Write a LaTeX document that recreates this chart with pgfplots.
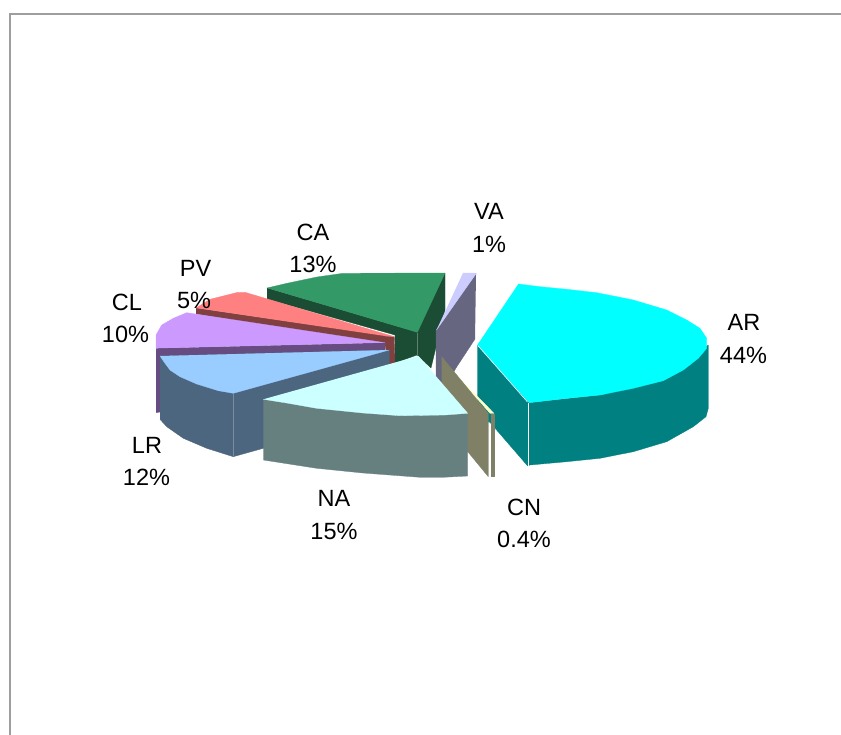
\documentclass[border=0pt]{standalone}
\usepackage{fontspec}
\setmainfont{Liberation Sans}
\usepackage{pgfplots}
\pgfplotsset{compat=1.18}
% top faces and their darker side walls
\definecolor{arTop}{HTML}{00FFFF}\definecolor{arSide}{HTML}{008080}
\definecolor{cnTop}{HTML}{FFFFCC}\definecolor{cnSide}{HTML}{808066}
\definecolor{naTop}{HTML}{CCFFFF}\definecolor{naSide}{HTML}{668080}
\definecolor{lrTop}{HTML}{99CCFF}\definecolor{lrSide}{HTML}{4D6680}
\definecolor{clTop}{HTML}{CC99FF}\definecolor{clSide}{HTML}{664C80}
\definecolor{pvTop}{HTML}{FF8080}\definecolor{pvSide}{HTML}{804040}
\definecolor{caTop}{HTML}{339966}\definecolor{caSide}{HTML}{1A4D33}
\definecolor{vaTop}{HTML}{CCCCFF}\definecolor{vaSide}{HTML}{666680}
\tikzset{
  face/.style={fill=#1, draw=#1, line width=0.3pt, line join=round},
  lbl/.style={font=\fontsize{23.6}{27}\selectfont, text=black, inner sep=0pt, anchor=center, yshift=-0.7bp}
}
\begin{document}
\begin{tikzpicture}
\begin{axis}[
  name=pie,
  width=841bp, height=735bp, scale only axis,
  xmin=0, xmax=841, ymin=0, ymax=735, y dir=reverse,
  axis lines=none, clip=true, no markers
]
% chart frame
\addplot[color=black!38, line width=1.7pt] coordinates {(10,735) (10,14) (841,14)};

% CA
\addplot[face=caSide] coordinates {(267,288) (417,332) (445,273) (445,310) (431,368) (417,355) (395,363) (395,335) (267,299)};
\addplot[color=caSide!70!white, line width=0.6pt] coordinates {(417.3,333) (417.3,356)};
\addplot[face=caTop] coordinates {(267,288) (287,283.3) (317,277) (343,273.3) (445,273) (417.3,332.5)};

% VA
\addplot[face=vaSide] coordinates {(476,274) (436,330) (436,377) (445,388) (456,368) (475,339)};
\addplot[face=vaTop] coordinates {(463,273) (476.5,273) (436.5,330)};

% PV
\addplot[face=pvSide] coordinates {(196,308) (394.3,336.7) (395,363.5) (389,364) (385,345) (196,314)};
\addplot[face=pvTop] coordinates {(196,308) (210,299.3) (238,292.3) (245,292.3) (394.3,336.7) (385,336)};

% CL
\addplot[face=clSide] coordinates {(156,348.3) (385,342.7) (385,350) (160,356) (160,412) (156,412.7)};
\addplot[face=clTop] coordinates {(156,348.3) (156,335) (161.7,325) (173.3,318.3) (186.7,312.7) (385,342.7)};

% LR
\addplot[face=lrSide] coordinates {(160,356) (389.3,350) (389.3,413) (233.3,456.7) (206.7,448.3) (183.3,438.3) (166.7,426.7) (160,419.3)};
\addplot[color=lrSide!75!white, line width=0.6pt] coordinates {(233.3,394) (233.3,456)};
\addplot[face=lrTop] coordinates {(160,356) (165,363.3) (170,370) (180,376.7) (196.7,384) (218.3,390.7) (233.3,393.3) (389.3,350)};

% AR
\addplot[face=arSide] coordinates {(477.3,345) (529,402.7) (600,395) (663.3,380.7) (708.3,345) (708.3,408.3) (706,416.7) (693.3,426.7) (666.7,441.7) (633.3,451.7) (600,458.3) (566.7,461.7) (530,465) (527.7,466) (477.3,407.7)};
\addplot[face=arTop] coordinates {(518.3,284) (540,286.7) (566.7,289.3) (596.7,292.7) (633.3,300) (666.7,310) (686.7,320) (700,328.3) (706.7,338.3) (706.7,348.3) (698.3,358.3) (683.3,370) (663.3,380.7) (633.3,388.3) (600,395) (566.7,398.3) (529.3,402.7) (477.3,345)};
\addplot[color=white, line width=1.2pt] coordinates {(528.6,402.5) (528.6,466)};
\addplot[color=white, line width=0.6pt] coordinates {(477.8,345.5) (527.5,402)};

% CN
\addplot[face=arSide] coordinates {(478,397) (490,412) (490,422) (488,422)};
\addplot[face=cnTop] coordinates {(453,371.7) (494,413.3) (490,413.3) (452,370)};
\addplot[face=cnSide] coordinates {(441.7,356.7) (488.3,413.3) (488.3,476.7) (441.7,420)};
\addplot[face=cnSide] coordinates {(490.6,414) (493.8,414) (493.8,476) (490.6,476)};

% NA
\addplot[face=naSide] coordinates {(263.3,399.3) (467.7,413.3) (467.7,476) (443.3,477.3) (420,477.3) (363,473) (316.7,468.3) (263.3,460)};
\addplot[face=naTop] coordinates {(263.3,399.3) (286.7,403) (316.7,408.3) (363,413) (400,415.7) (445,415) (467.7,413.3) (418.3,356)};

% labels
\node[lbl] at (axis cs:489,211) {VA};
\node[lbl] at (axis cs:489,244) {1\%};
\node[lbl] at (axis cs:313,232) {CA};
\node[lbl] at (axis cs:313,264) {13\%};
\node[lbl] at (axis cs:195.5,268) {PV};
\node[lbl] at (axis cs:194,300) {5\%};
\node[lbl] at (axis cs:127,302) {CL};
\node[lbl] at (axis cs:125.5,334) {10\%};
\node[lbl] at (axis cs:744,322) {AR};
\node[lbl] at (axis cs:743.5,355) {44\%};
\node[lbl] at (axis cs:147,445) {LR};
\node[lbl] at (axis cs:146.5,477) {12\%};
\node[lbl] at (axis cs:334,498) {NA};
\node[lbl] at (axis cs:334,531) {15\%};
\node[lbl] at (axis cs:524,507) {CN};
\node[lbl] at (axis cs:524,539) {0.4\%};
\end{axis}
% page covers the full plotting area
\path[use as bounding box] (pie.south west) rectangle (pie.north east);
\end{tikzpicture}
\end{document}
